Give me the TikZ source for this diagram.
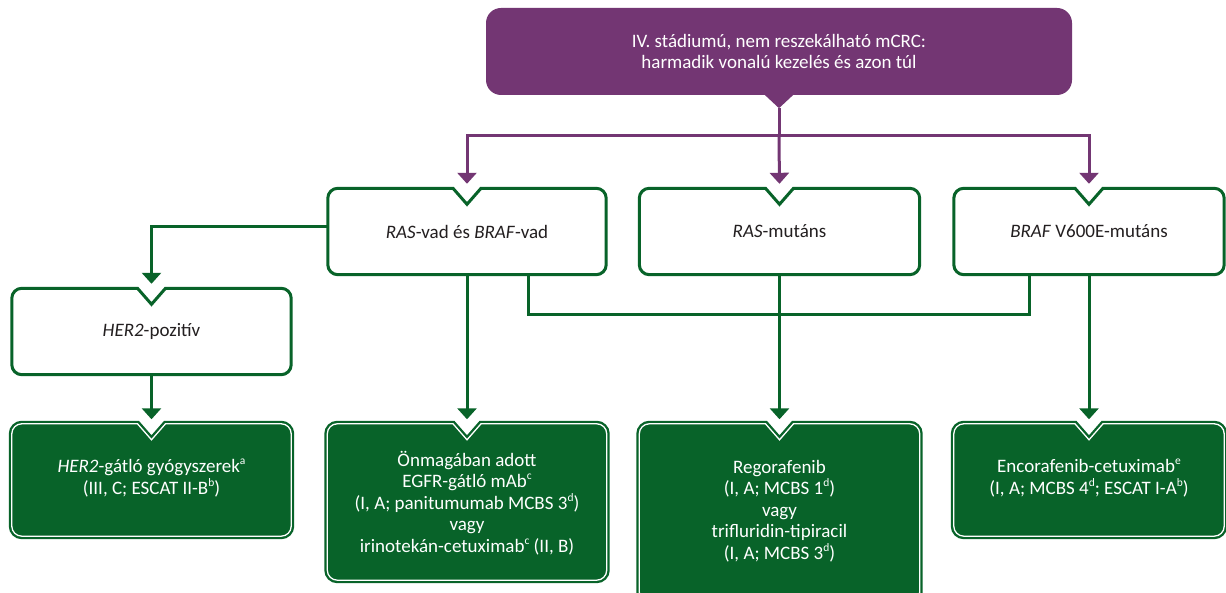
\documentclass[tikz,border=0pt]{standalone}
\usepackage{fontspec}
\setmainfont{Carlito}
\usetikzlibrary{arrows.meta}
\definecolor{pur}{RGB}{115,54,115}
\definecolor{gr}{RGB}{8,99,41}
\definecolor{txt}{RGB}{35,31,32}
\newcommand\sups[1]{\raisebox{0.42em}{\fontsize{11.5pt}{11.5pt}\selectfont #1}}
\newcommand\nbox[1]{([xshift=14pt]#1.north) -- ([xshift=-10pt]#1.north east) arc[start angle=90,end angle=0,radius=10pt] -- ([yshift=10pt]#1.south east) arc[start angle=0,end angle=-90,radius=10pt] -- ([xshift=10pt]#1.south west) arc[start angle=270,end angle=180,radius=10pt] -- ([yshift=-10pt]#1.north west) arc[start angle=180,end angle=90,radius=10pt] -- ([xshift=-14pt]#1.north) -- ([yshift=-16pt]#1.north) -- cycle}
\tikzset{
  every node/.style={inner sep=0pt, align=center, font=\fontsize{19pt}{21.5pt}\selectfont},
  wbox/.style={text=txt},
  gbox/.style={text=white},
  pbox/.style={fill=pur, text=white, rounded corners=15pt},
  pline/.style={draw=pur, line width=3pt},
  gline/.style={draw=gr, line width=3pt},
  tip/.style={-{Triangle[width=19pt,length=11pt]}, shorten >=4.5pt},
}
\begin{document}
\begin{tikzpicture}[x=1pt,y=1pt]
\clip (0,0) rectangle (1226,593);
\fill[white] (0,0) rectangle (1226,593);
% top box
\node[pbox, minimum width=586pt, minimum height=87pt] (p) at (779,541.5) {IV. stádiumú, nem reszekálható mCRC:\\harmadik vonalú kezelés és azon túl};
\coordinate (ptip) at ([yshift=-13pt]p.south);
\fill[pur] ([xshift=-15pt,yshift=1pt]p.south) -- (ptip) -- ([xshift=15pt,yshift=1pt]p.south) -- cycle;
\coordinate (pj) at (779,457);
% middle row
\node[wbox, minimum width=278pt, minimum height=86pt] (a) at (467,361.5) {};
\node[wbox, minimum width=280pt, minimum height=86pt] (b) at (779.5,361.5) {};
\node[wbox, minimum width=270pt, minimum height=86pt] (c) at (1089,361.5) {};
\node[wbox, minimum width=279pt, minimum height=86pt] (h) at (151.5,261.5) {};
\foreach \n in {a,b,c,h}{\draw[gr, line width=3pt, fill=white, line join=miter] \nbox{\n};}
\node[wbox] (ta) at (a) {\textit{RAS}-vad és \textit{BRAF}-vad};
\node[wbox] (tb) at (b) {\textit{RAS}-mutáns};
\node[wbox] (tc) at (c) {\textit{BRAF} V600E-mutáns};
\node[wbox] (th) at (h) {\textit{HER2}-pozitív};
% bottom row
\node[gbox, minimum width=279pt, minimum height=112pt] (d) at (151.5,113) {};
\node[gbox, minimum width=279pt, minimum height=156pt] (e) at (467,91) {};
\node[gbox, minimum width=280pt, minimum height=178pt] (f) at (779.5,80) {};
\node[gbox, minimum width=270pt, minimum height=112pt] (g) at (1089,113) {};
\foreach \n in {d,e,f,g}{
  \fill[gr] \nbox{\n};
  \draw[gr, line width=6pt, line join=miter] \nbox{\n};
  \draw[white, line width=1.3pt, line join=miter] \nbox{\n};
}
\node[gbox] (td) at ([yshift=2pt]d) {\textit{HER2}-gátló gyógyszerek\sups{a}\\(III, C; ESCAT II-B\sups{b})};
\node[gbox] (te) at ([yshift=-1pt]e) {Önmagában adott\\EGFR-gátló mAb\sups{c}\\(I, A; panitumumab MCBS 3\sups{d})\\vagy\\irinotekán-cetuximab\sups{c} (II, B)};
\node[gbox] (tf) at ([yshift=2pt]f) {Regorafenib\\(I, A; MCBS 1\sups{d})\\vagy\\trifluridin-tipiracil\\(I, A; MCBS 3\sups{d})};
\node[gbox] (tg) at ([yshift=2pt]g) {Encorafenib-cetuximab\sups{e}\\(I, A; MCBS 4\sups{d}; ESCAT I-A\sups{b})};
% purple connectors
\draw[pline] (ptip) -- (pj);
\draw[pline, tip] (pj) -| (a.north);
\draw[pline, tip] (pj) -- (b.north);
\draw[pline, tip] (pj) -| (c.north);
% green connectors
\draw[gline, tip] ([yshift=5pt]a.west) -| (h.north);
\draw[gline, tip] (h.south) -- (d.north);
\draw[gline, tip] (a.south) -- (e.north);
\draw[gline] ([xshift=61pt]a.south) -- ++(0,-40) -| ([xshift=-60pt]c.south);
\draw[gline, tip] (b.south) -- (f.north);
\draw[gline, tip] (c.south) -- (g.north);
\end{tikzpicture}
\end{document}
